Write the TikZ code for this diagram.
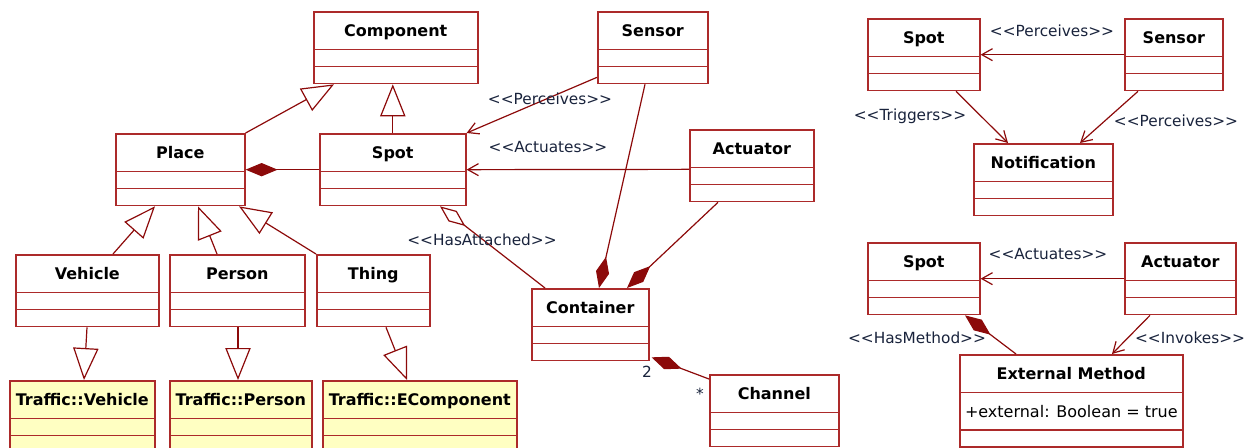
\documentclass[tikz,border=0pt]{standalone}
\usepackage{fontspec}
\setmainfont{DejaVu Sans}
\usetikzlibrary{shapes.multipart,arrows.meta,calc}
\definecolor{boxred}{RGB}{172,42,42}
\definecolor{linered}{RGB}{140,10,10}
\definecolor{extyellow}{RGB}{255,255,194}
\definecolor{labelink}{RGB}{25,35,60}
\tikzset{
  umlclass/.style={rectangle split, rectangle split parts=3, draw=boxred, line width=1.2pt,
    fill=white, anchor=north west, inner xsep=2pt, inner ysep=0pt,
    rectangle split empty part height=11.6pt, rectangle split empty part depth=0pt,
    font=\fontsize{12}{14}\selectfont\bfseries,
    execute at begin node={\rule[-9pt]{0pt}{27pt}}},
  extclass/.style={umlclass, fill=extyellow},
  stereo/.style={font=\fontsize{11.5}{13}\selectfont, text=labelink, inner sep=0pt},
  conn/.style={draw=linered, line width=0.9pt},
  inherit/.style={conn, -{Triangle[open, length=24pt, width=19pt]}},
  depend/.style={conn, -{Straight Barb[length=8pt, width=9pt]}},
  compose/.style={conn, {Diamond[length=24pt, width=10pt]}-},
  aggregate/.style={conn, {Diamond[open, length=24pt, width=10pt]}-}
}
\begin{document}
\begin{tikzpicture}[x=0.75pt, y=-0.75pt]
    \useasboundingbox (0,0) rectangle (1252,447);

    \node[umlclass, minimum width=123pt] (comp) at (313,11) {Component};
    \node[umlclass, minimum width=82.5pt] (sensor) at (597,11) {Sensor};
    \node[umlclass, minimum width=96.75pt] (place) at (115,133) {Place};
    \node[umlclass, minimum width=109.5pt] (spot) at (319,133) {Spot};
    \node[umlclass, minimum width=93pt] (actuator) at (689,129) {Actuator};
    \node[umlclass, minimum width=107.25pt] (vehicle) at (15,254) {Vehicle};
    \node[umlclass, minimum width=101.25pt] (person) at (169,254) {Person};
    \node[umlclass, minimum width=84.75pt] (thing) at (316,254) {Thing};
    \node[umlclass, minimum width=87.75pt] (container) at (531,288) {Container};
    \node[umlclass, minimum width=96.75pt] (channel) at (709,374) {Channel};
    \node[extclass, minimum width=108.75pt] (tvehicle) at (9,380) {Traffic::Vehicle};
    \node[extclass, minimum width=106.5pt] (tperson) at (169,380) {Traffic::Person};
    \node[extclass, minimum width=145.5pt] (tecomp) at (322,380) {Traffic::EComponent};

    \node[umlclass, minimum width=84pt] (spotB) at (867,18) {Spot};
    \node[umlclass, minimum width=73.5pt] (sensorB) at (1124,18) {Sensor};
    \node[umlclass, minimum width=104.25pt] (notif) at (973,143) {Notification};
    \node[umlclass, minimum width=84pt] (spotC) at (867,242) {Spot};
    \node[umlclass, minimum width=83.25pt] (actuatorB) at (1124,242) {Actuator};
    \node[umlclass, minimum width=167.25pt] (extmethod) at (959,354) {External Method
        \nodepart{two}\mdseries\rule[-9pt]{0pt}{27pt}+external: Boolean = true};

    \draw[inherit] (place.north east) -- ($(comp.south west)+(21,0)$);
    \draw[inherit] (spot.north) -- (spot.north |- comp.south);
    \draw[compose] (place.east) -- (spot.west);
    \draw[inherit] ($(vehicle.north west)+(98,0)$) -- ($(place.south west)+(40,0)$);
    \draw[inherit] ($(person.north west)+(48,0)$) -- ($(place.south west)+(83,0)$);
    \draw[inherit] (thing.north west) -- ($(place.south west)+(124,0)$);
    \draw[inherit] ($(vehicle.south west)+(72,0)$) -- ($(tvehicle.north west)+(75,0)$);
    \draw[inherit] ($(person.south west)+(69,0)$) -- ($(tperson.north west)+(69,0)$);
    \draw[inherit] ($(thing.south west)+(70,0)$) -- ($(tecomp.north west)+(85,0)$);
    \draw[depend] ($(sensor.south west)+(0,-7)$) -- (spot.north east);
    \draw[depend] ($(actuator.south west)+(0,-33)$) -- (spot.east);
    \draw[aggregate] ($(spot.south west)+(121,0)$) -- ($(container.north west)+(14,0)$);
    \draw[compose] ($(container.north west)+(68,0)$) -- ($(sensor.south west)+(48,0)$);
    \draw[compose] ($(container.north west)+(96,0)$) -- ($(actuator.south west)+(29,0)$);
    \draw[compose] ($(container.south east)+(2,-4)$) -- ($(channel.north west)+(0,5)$);

    \draw[depend] (sensorB.west) -- (spotB.east);
    \draw[depend] ($(spotB.south west)+(89,0)$) -- ($(notif.north west)+(35,0)$);
    \draw[depend] ($(sensorB.south west)+(14,0)$) -- ($(notif.north west)+(107,0)$);
    \draw[depend] (actuatorB.west) -- (spotC.east);
    \draw[compose] ($(spotC.south west)+(98,0)$) -- ($(extmethod.north west)+(57,0)$);
    \draw[depend] ($(actuatorB.south west)+(26,0)$) -- ($(extmethod.north west)+(153,0)$);

    \node[stereo] (lblperc) at (550,99) {<{}<Perceives>{}>};
    \node[stereo] (lblact) at (548,147) {<{}<Actuates>{}>};
    \node[stereo] (lblattach) at (482,240) {<{}<HasAttached>{}>};
    \node[stereo] (lblmulta) at (647,372) {2};
    \node[stereo] (lblmultb) at (700,394) {*};
    \node[stereo] (lblpercB) at (1052,31) {<{}<Perceives>{}>};
    \node[stereo] (lbltrig) at (910,116) {<{}<Triggers>{}>};
    \node[stereo] (lblpercC) at (1176,121) {<{}<Perceives>{}>};
    \node[stereo] (lblactB) at (1048,254) {<{}<Actuates>{}>};
    \node[stereo] (lblmeth) at (917,338) {<{}<HasMethod>{}>};
    \node[stereo] (lblinv) at (1190,338) {<{}<Invokes>{}>};
\end{tikzpicture}
\end{document}
